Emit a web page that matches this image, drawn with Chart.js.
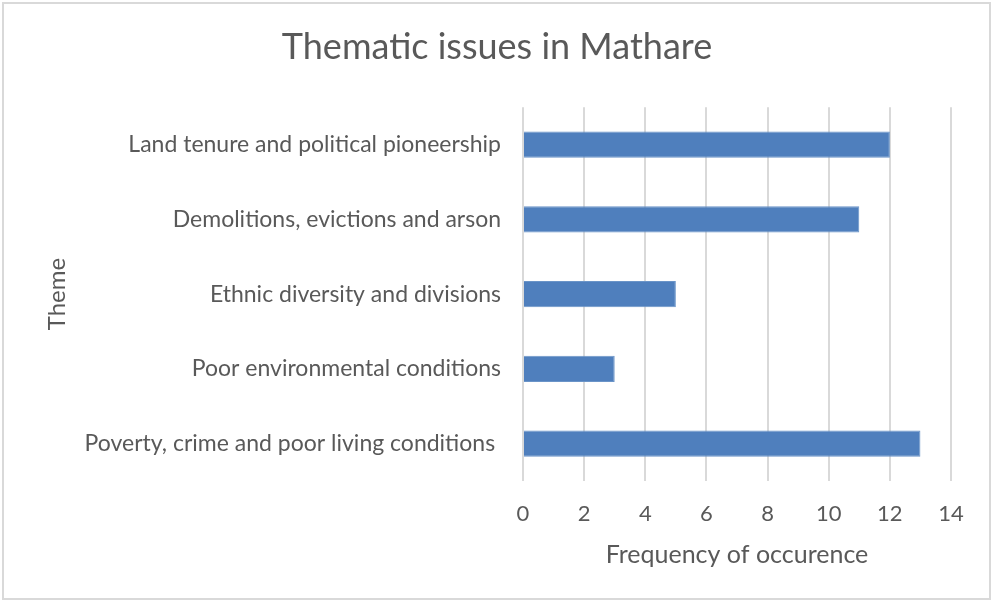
<!DOCTYPE html>
<html>
<head>
<meta charset="utf-8">
<script src="https://cdn.jsdelivr.net/npm/chart.js@4"></script>
<style>
  html, body { margin: 0; padding: 0; background: #fff; }
  #wrap { width: 993px; height: 602px; position: relative; }
</style>
</head>
<body>
<div id="wrap"><canvas id="chart"></canvas></div>
<script>
// chart data
const themes = [
  "Land tenure and political pioneership",
  "Demolitions, evictions and arson",
  "Ethnic diversity and divisions",
  "Poor environmental conditions",
  "Poverty, crime and poor living conditions "
];
const frequency = [12, 11, 5, 3, 13];
const xTicks = [0, 2, 4, 6, 8, 10, 12, 14];

const TEXT = "#595959";
const FONT = "Lato, 'Open Sans', sans-serif";

// light grey frame round the whole chart
const frame = {
  id: "frame",
  afterDraw(chart){
    const c = chart.ctx;
    c.save();
    c.strokeStyle = "#d9d9d9";
    c.lineWidth = 2;
    c.strokeRect(3, 3, chart.width - 6, chart.height - 6);
    c.restore();
  }
};

new Chart(document.getElementById("chart"), {
  type: "bar",
  data: {
    labels: themes,
    datasets: [{
      label: "Frequency",
      data: frequency,
      backgroundColor: "#4f7fbd",
      borderColor: "#6a94c8",
      borderWidth: 1,
      categoryPercentage: 1,
      barPercentage: 0.35
    }]
  },
  options: {
    indexAxis: "y",
    responsive: true,
    maintainAspectRatio: false,
    animation: false,
    layout: { padding: { left: 43, right: 42, top: 0, bottom: 24 } },
    plugins: {
      legend: { display: false },
      tooltip: { enabled: false },
      title: {
        display: true,
        text: "Thematic issues in Mathare",
        color: TEXT,
        font: { family: FONT, size: 36, weight: "normal" },
        padding: { top: 26, bottom: 38 }
      }
    },
    scales: {
      x: {
        min: 0, max: 14,
        afterBuildTicks(s){ s.ticks = xTicks.map(v => ({ value: v })); },
        afterFit(s){ s.height = 97; },
        grid: { color: "#d9d9d9", lineWidth: 2, drawTicks: false },
        border: { display: false },
        ticks: { color: TEXT, font: { family: FONT, size: 22 }, padding: 20 },
        title: {
          display: true,
          text: "Frequency of occurence",
          color: TEXT,
          font: { family: FONT, size: 25 },
          padding: { top: 0, bottom: 8 }
        }
      },
      y: {
        afterFit(s){ s.width = 480; },
        grid: { display: false, drawTicks: false },
        border: { display: false },
        ticks: { color: TEXT, font: { family: FONT, size: 23 }, padding: 22 },
        title: {
          display: true,
          text: "Theme",
          color: TEXT,
          font: { family: FONT, size: 24 },
          padding: { top: 0, bottom: 0 }
        }
      }
    }
  },
  plugins: [frame]
});
</script>
</body>
</html>
